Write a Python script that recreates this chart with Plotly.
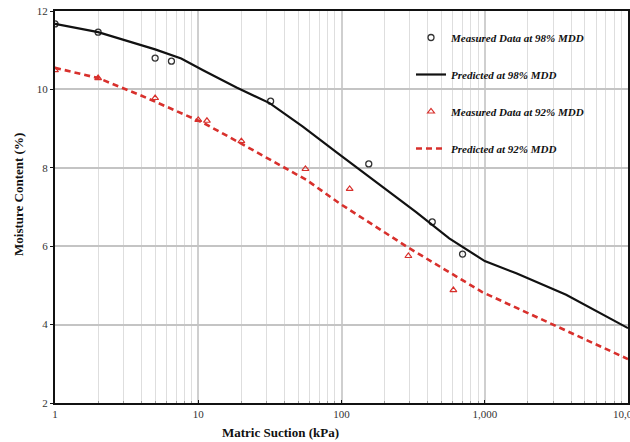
import plotly.graph_objects as go

# ---- data ----
meas98_x = [1, 2, 5, 6.5, 32, 155, 430, 700]
meas98_y = [11.67, 11.46, 10.8, 10.72, 9.7, 8.1, 6.62, 5.8]

meas92_x = [1, 2, 5, 10, 11.5, 20, 56, 114, 293, 604]
meas92_y = [10.49, 10.29, 9.78, 9.22, 9.2, 8.68, 7.97, 7.46, 5.75, 4.88]

pred98_x = [1, 2, 5, 7.6, 10.8, 18.5, 31.5, 53.7, 92, 149, 193, 332, 565, 1000, 1660, 3700, 10000]
pred98_y = [11.67, 11.46, 11.02, 10.79, 10.49, 10.05, 9.65, 9.05, 8.4, 7.82, 7.5, 6.87, 6.2, 5.62, 5.31, 4.76, 3.91]

pred92_x = [1, 2, 3.9, 6.7, 10.8, 19, 33, 57, 97, 149, 297, 960, 2820, 10000]
pred92_y = [10.55, 10.29, 9.86, 9.48, 9.15, 8.66, 8.18, 7.69, 7.09, 6.65, 5.95, 4.83, 4.04, 3.12]

x_major = [1, 10, 100, 1000, 10000]
x_major_text = ["1", "10", "100", "1,000", "10,000"]
x_minor = [m * 10 ** k for k in range(4) for m in range(2, 10)]
y_ticks = [2, 4, 6, 8, 10, 12]

names = ["Measured Data at 98% MDD", "Predicted at 98% MDD",
         "Measured Data at 92% MDD", "Predicted at 92% MDD"]

RED = "#d8302c"
SERIF = "Liberation Serif, Times New Roman, serif"

fig = go.Figure()
fig.add_trace(go.Scatter(x=meas98_x, y=meas98_y, mode="markers", name=names[0],
                         legendgroup="a",
                         marker=dict(symbol="circle-open", size=6, color="#333333",
                                     line=dict(width=1.3))))
fig.add_trace(go.Scatter(x=pred98_x, y=pred98_y, mode="lines", name=names[1],
                         legendgroup="b",
                         line=dict(color="#111111", width=2.2)))
fig.add_trace(go.Scatter(x=meas92_x, y=meas92_y, mode="markers", name=names[2],
                         legendgroup="c",
                         marker=dict(symbol="triangle-up-open", size=6, color=RED,
                                     line=dict(width=1.2))))
fig.add_trace(go.Scatter(x=pred92_x, y=pred92_y, mode="lines", name=names[3],
                         legendgroup="d",
                         line=dict(color=RED, width=2.6, dash="6px,4px")))

# white box behind legend (hides grid)
fig.add_shape(type="rect", xref="paper", yref="paper",
              x0=(383 - 55) / 573, x1=(619 - 55) / 573,
              y0=1 - (163 - 11) / 392, y1=1 - (14 - 11) / 392,
              fillcolor="white", line=dict(width=0), layer="between")

fig.update_xaxes(type="log", range=[0, 4], automargin=False,
                 tickvals=x_major, ticktext=x_major_text, ticklabeloverflow="allow",
                 showgrid=True, gridcolor="#cfcfcf", gridwidth=1.5,
                 minor=dict(tickvals=x_minor, showgrid=True, gridcolor="#dedede",
                            gridwidth=1.3, ticks="inside", ticklen=2, tickcolor="#999"),
                 showline=True, linecolor="#111", linewidth=2.2, mirror=True,
                 ticks="inside", ticklen=3, tickcolor="#111",
                 tickfont=dict(family=SERIF, size=11, color="#333"),
                 zeroline=False)
fig.update_yaxes(range=[2, 12], tickvals=y_ticks, automargin=False,
                 showgrid=True, gridcolor="#c4c4c4", gridwidth=1.8,
                 showline=True, linecolor="#111", linewidth=2.2, mirror=True,
                 ticks="outside", ticklen=3, tickcolor="#111",
                 tickfont=dict(family=SERIF, size=11, color="#333"),
                 zeroline=False)

fig.add_annotation(text="<b>Matric Suction (kPa)</b>", xref="paper", yref="paper",
                   x=(280 - 55) / 573, y=-(433 - 403) / 392, showarrow=False,
                   xanchor="center", yanchor="middle",
                   font=dict(family=SERIF, size=13, color="#111"))
fig.add_annotation(text="<b>Moisture Content (%)</b>", xref="paper", yref="paper",
                   x=-(55 - 18) / 573, y=1 - (195 - 11) / 392, showarrow=False,
                   xanchor="center", yanchor="middle", textangle=-90,
                   font=dict(family=SERIF, size=13, color="#111"))

fig.update_layout(
    width=630, height=442,
    margin=dict(l=55, r=2, t=11, b=39, autoexpand=False),
    plot_bgcolor="white", paper_bgcolor="white",
    legend=dict(x=(411 - 55) / 573, y=1 - (23 - 11) / 392, xanchor="left", yanchor="top",
                bgcolor="rgba(0,0,0,0)", traceorder="grouped", tracegroupgap=18,
                font=dict(family=SERIF, size=11, color="#111", style="italic", weight="bold")),
)

fig.write_html("out.html")
